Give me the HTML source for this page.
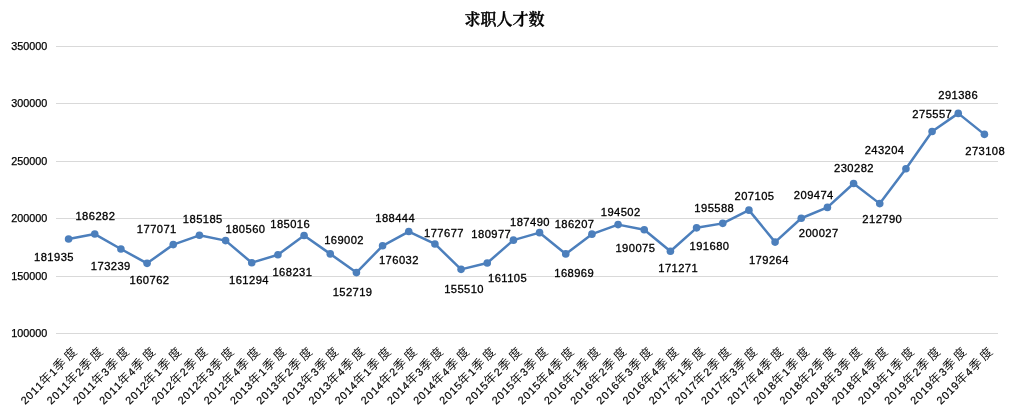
<!DOCTYPE html>
<html lang="zh-CN">
<head>
<meta charset="utf-8">
<title>求职人才数</title>
<style>
html,body{margin:0;padding:0;background:#fff;}
body{width:1010px;height:411px;overflow:hidden;}
svg{display:block;}
.ax{font-family:"Liberation Sans","Noto Sans CJK SC",sans-serif;font-size:10.8px;fill:#000;stroke:#000;stroke-width:0.25px;}
.dl{font-family:"Liberation Sans","Noto Sans CJK SC",sans-serif;font-size:11.2px;letter-spacing:0.42px;fill:#000;stroke:#000;stroke-width:0.3px;text-anchor:middle;}
.xl{font-family:"Liberation Sans","Noto Sans CJK SC",sans-serif;font-size:10.8px;fill:#000;stroke:#000;stroke-width:0.18px;text-anchor:middle;}
.xl .c{font-family:"Noto Sans CJK SC","Noto Serif CJK SC",sans-serif;font-size:12.2px;font-weight:350;stroke:none;}
.title{font-family:"Noto Serif CJK SC","Liberation Serif",serif;font-weight:600;font-size:16px;fill:#000;stroke:#000;stroke-width:0.35px;text-anchor:middle;}
</style>
</head>
<body>
<svg width="1010" height="411" viewBox="0 0 1010 411">
<rect x="0" y="0" width="1010" height="411" fill="#ffffff"/>
<text class="title" x="504.5" y="25">求职人才数</text>
<g stroke="#d9d9d9" stroke-width="1" shape-rendering="crispEdges">
<line x1="56.0" y1="46.5" x2="998.0" y2="46.5"/>
<line x1="56.0" y1="103.5" x2="998.0" y2="103.5"/>
<line x1="56.0" y1="161.5" x2="998.0" y2="161.5"/>
<line x1="56.0" y1="218.5" x2="998.0" y2="218.5"/>
<line x1="56.0" y1="276.5" x2="998.0" y2="276.5"/>
<line x1="56.0" y1="333.5" x2="998.0" y2="333.5"/>
</g>
<g class="ax" text-anchor="end">
<text x="47.3" y="50.4">350000</text>
<text x="47.3" y="107.4">300000</text>
<text x="47.3" y="165.4">250000</text>
<text x="47.3" y="222.4">200000</text>
<text x="47.3" y="280.4">150000</text>
<text x="47.3" y="337.4">100000</text>
</g>
<polyline points="68.58,239.04 94.75,234.05 120.92,249.02 147.08,263.35 173.25,244.62 199.42,235.31 225.58,240.62 251.75,262.73 277.92,254.77 304.08,235.50 330.25,253.89 356.42,272.58 382.58,245.82 408.75,231.57 434.92,243.93 461.08,269.37 487.25,262.95 513.42,240.14 539.58,232.66 565.75,253.92 591.92,234.13 618.08,224.61 644.25,229.69 670.42,251.28 696.58,227.85 722.75,223.36 748.92,210.14 775.08,242.10 801.25,218.27 827.42,207.42 853.58,183.54 879.75,203.62 905.92,168.70 932.08,131.56 958.25,113.39 984.42,134.37" fill="none" stroke="#4c7fbc" stroke-width="2.5" stroke-linejoin="round" stroke-linecap="round"/>
<g fill="#4c7fbc">
<circle cx="68.58" cy="239.04" r="3.8"/>
<circle cx="94.75" cy="234.05" r="3.8"/>
<circle cx="120.92" cy="249.02" r="3.8"/>
<circle cx="147.08" cy="263.35" r="3.8"/>
<circle cx="173.25" cy="244.62" r="3.8"/>
<circle cx="199.42" cy="235.31" r="3.8"/>
<circle cx="225.58" cy="240.62" r="3.8"/>
<circle cx="251.75" cy="262.73" r="3.8"/>
<circle cx="277.92" cy="254.77" r="3.8"/>
<circle cx="304.08" cy="235.50" r="3.8"/>
<circle cx="330.25" cy="253.89" r="3.8"/>
<circle cx="356.42" cy="272.58" r="3.8"/>
<circle cx="382.58" cy="245.82" r="3.8"/>
<circle cx="408.75" cy="231.57" r="3.8"/>
<circle cx="434.92" cy="243.93" r="3.8"/>
<circle cx="461.08" cy="269.37" r="3.8"/>
<circle cx="487.25" cy="262.95" r="3.8"/>
<circle cx="513.42" cy="240.14" r="3.8"/>
<circle cx="539.58" cy="232.66" r="3.8"/>
<circle cx="565.75" cy="253.92" r="3.8"/>
<circle cx="591.92" cy="234.13" r="3.8"/>
<circle cx="618.08" cy="224.61" r="3.8"/>
<circle cx="644.25" cy="229.69" r="3.8"/>
<circle cx="670.42" cy="251.28" r="3.8"/>
<circle cx="696.58" cy="227.85" r="3.8"/>
<circle cx="722.75" cy="223.36" r="3.8"/>
<circle cx="748.92" cy="210.14" r="3.8"/>
<circle cx="775.08" cy="242.10" r="3.8"/>
<circle cx="801.25" cy="218.27" r="3.8"/>
<circle cx="827.42" cy="207.42" r="3.8"/>
<circle cx="853.58" cy="183.54" r="3.8"/>
<circle cx="879.75" cy="203.62" r="3.8"/>
<circle cx="905.92" cy="168.70" r="3.8"/>
<circle cx="932.08" cy="131.56" r="3.8"/>
<circle cx="958.25" cy="113.39" r="3.8"/>
<circle cx="984.42" cy="134.37" r="3.8"/>
</g>
<g class="dl">
<text x="54.0" y="261.2">181935</text>
<text x="95.4" y="220.2">186282</text>
<text x="110.8" y="270.2">173239</text>
<text x="149.5" y="284.2">160762</text>
<text x="156.8" y="233.2">177071</text>
<text x="202.8" y="222.8">185185</text>
<text x="245.5" y="233.2">180560</text>
<text x="249.0" y="283.7">161294</text>
<text x="292.4" y="276.2">168231</text>
<text x="290.2" y="227.6">185016</text>
<text x="344.1" y="244.2">169002</text>
<text x="352.6" y="296.2">152719</text>
<text x="398.9" y="264.1">176032</text>
<text x="395.2" y="221.5">188444</text>
<text x="444.0" y="237.3">177677</text>
<text x="464.1" y="293.4">155510</text>
<text x="507.6" y="282.3">161105</text>
<text x="491.3" y="238.0">180977</text>
<text x="530.0" y="225.5">187490</text>
<text x="574.2" y="277.0">168969</text>
<text x="574.6" y="228.3">186207</text>
<text x="620.7" y="216.2">194502</text>
<text x="635.4" y="252.2">190075</text>
<text x="678.2" y="272.2">171271</text>
<text x="709.5" y="250.1">191680</text>
<text x="714.3" y="212.4">195588</text>
<text x="754.5" y="200.3">207105</text>
<text x="768.9" y="264.3">179264</text>
<text x="818.7" y="237.2">200027</text>
<text x="813.8" y="199.3">209474</text>
<text x="854.0" y="172.4">230282</text>
<text x="882.3" y="223.0">212790</text>
<text x="884.6" y="154.3">243204</text>
<text x="932.3" y="117.8">275557</text>
<text x="958.2" y="99.2">291386</text>
<text x="985.2" y="155.1">273108</text>
</g>
<g class="xl">
<text transform="translate(70.25,354.05) rotate(-45)" y="4.2" x="-65 -58 -51 -44.3">2011<tspan class="c" x="-35">年</tspan><tspan x="-24.9">1</tspan><tspan class="c" x="-15 0">季度</tspan></text>
<text transform="translate(96.42,354.05) rotate(-45)" y="4.2" x="-65 -58 -51 -44.3">2011<tspan class="c" x="-35">年</tspan><tspan x="-24.9">2</tspan><tspan class="c" x="-15 0">季度</tspan></text>
<text transform="translate(122.58,354.05) rotate(-45)" y="4.2" x="-65 -58 -51 -44.3">2011<tspan class="c" x="-35">年</tspan><tspan x="-24.9">3</tspan><tspan class="c" x="-15 0">季度</tspan></text>
<text transform="translate(148.75,354.05) rotate(-45)" y="4.2" x="-65 -58 -51 -44.3">2011<tspan class="c" x="-35">年</tspan><tspan x="-24.9">4</tspan><tspan class="c" x="-15 0">季度</tspan></text>
<text transform="translate(174.92,354.05) rotate(-45)" y="4.2" x="-65 -58 -51 -44.3">2012<tspan class="c" x="-35">年</tspan><tspan x="-24.9">1</tspan><tspan class="c" x="-15 0">季度</tspan></text>
<text transform="translate(201.08,354.05) rotate(-45)" y="4.2" x="-65 -58 -51 -44.3">2012<tspan class="c" x="-35">年</tspan><tspan x="-24.9">2</tspan><tspan class="c" x="-15 0">季度</tspan></text>
<text transform="translate(227.25,354.05) rotate(-45)" y="4.2" x="-65 -58 -51 -44.3">2012<tspan class="c" x="-35">年</tspan><tspan x="-24.9">3</tspan><tspan class="c" x="-15 0">季度</tspan></text>
<text transform="translate(253.42,354.05) rotate(-45)" y="4.2" x="-65 -58 -51 -44.3">2012<tspan class="c" x="-35">年</tspan><tspan x="-24.9">4</tspan><tspan class="c" x="-15 0">季度</tspan></text>
<text transform="translate(279.58,354.05) rotate(-45)" y="4.2" x="-65 -58 -51 -44.3">2013<tspan class="c" x="-35">年</tspan><tspan x="-24.9">1</tspan><tspan class="c" x="-15 0">季度</tspan></text>
<text transform="translate(305.75,354.05) rotate(-45)" y="4.2" x="-65 -58 -51 -44.3">2013<tspan class="c" x="-35">年</tspan><tspan x="-24.9">2</tspan><tspan class="c" x="-15 0">季度</tspan></text>
<text transform="translate(331.92,354.05) rotate(-45)" y="4.2" x="-65 -58 -51 -44.3">2013<tspan class="c" x="-35">年</tspan><tspan x="-24.9">3</tspan><tspan class="c" x="-15 0">季度</tspan></text>
<text transform="translate(358.08,354.05) rotate(-45)" y="4.2" x="-65 -58 -51 -44.3">2013<tspan class="c" x="-35">年</tspan><tspan x="-24.9">4</tspan><tspan class="c" x="-15 0">季度</tspan></text>
<text transform="translate(384.25,354.05) rotate(-45)" y="4.2" x="-65 -58 -51 -44.3">2014<tspan class="c" x="-35">年</tspan><tspan x="-24.9">1</tspan><tspan class="c" x="-15 0">季度</tspan></text>
<text transform="translate(410.42,354.05) rotate(-45)" y="4.2" x="-65 -58 -51 -44.3">2014<tspan class="c" x="-35">年</tspan><tspan x="-24.9">2</tspan><tspan class="c" x="-15 0">季度</tspan></text>
<text transform="translate(436.58,354.05) rotate(-45)" y="4.2" x="-65 -58 -51 -44.3">2014<tspan class="c" x="-35">年</tspan><tspan x="-24.9">3</tspan><tspan class="c" x="-15 0">季度</tspan></text>
<text transform="translate(462.75,354.05) rotate(-45)" y="4.2" x="-65 -58 -51 -44.3">2014<tspan class="c" x="-35">年</tspan><tspan x="-24.9">4</tspan><tspan class="c" x="-15 0">季度</tspan></text>
<text transform="translate(488.92,354.05) rotate(-45)" y="4.2" x="-65 -58 -51 -44.3">2015<tspan class="c" x="-35">年</tspan><tspan x="-24.9">1</tspan><tspan class="c" x="-15 0">季度</tspan></text>
<text transform="translate(515.08,354.05) rotate(-45)" y="4.2" x="-65 -58 -51 -44.3">2015<tspan class="c" x="-35">年</tspan><tspan x="-24.9">2</tspan><tspan class="c" x="-15 0">季度</tspan></text>
<text transform="translate(541.25,354.05) rotate(-45)" y="4.2" x="-65 -58 -51 -44.3">2015<tspan class="c" x="-35">年</tspan><tspan x="-24.9">3</tspan><tspan class="c" x="-15 0">季度</tspan></text>
<text transform="translate(567.42,354.05) rotate(-45)" y="4.2" x="-65 -58 -51 -44.3">2015<tspan class="c" x="-35">年</tspan><tspan x="-24.9">4</tspan><tspan class="c" x="-15 0">季度</tspan></text>
<text transform="translate(593.58,354.05) rotate(-45)" y="4.2" x="-65 -58 -51 -44.3">2016<tspan class="c" x="-35">年</tspan><tspan x="-24.9">1</tspan><tspan class="c" x="-15 0">季度</tspan></text>
<text transform="translate(619.75,354.05) rotate(-45)" y="4.2" x="-65 -58 -51 -44.3">2016<tspan class="c" x="-35">年</tspan><tspan x="-24.9">2</tspan><tspan class="c" x="-15 0">季度</tspan></text>
<text transform="translate(645.92,354.05) rotate(-45)" y="4.2" x="-65 -58 -51 -44.3">2016<tspan class="c" x="-35">年</tspan><tspan x="-24.9">3</tspan><tspan class="c" x="-15 0">季度</tspan></text>
<text transform="translate(672.08,354.05) rotate(-45)" y="4.2" x="-65 -58 -51 -44.3">2016<tspan class="c" x="-35">年</tspan><tspan x="-24.9">4</tspan><tspan class="c" x="-15 0">季度</tspan></text>
<text transform="translate(698.25,354.05) rotate(-45)" y="4.2" x="-65 -58 -51 -44.3">2017<tspan class="c" x="-35">年</tspan><tspan x="-24.9">1</tspan><tspan class="c" x="-15 0">季度</tspan></text>
<text transform="translate(724.42,354.05) rotate(-45)" y="4.2" x="-65 -58 -51 -44.3">2017<tspan class="c" x="-35">年</tspan><tspan x="-24.9">2</tspan><tspan class="c" x="-15 0">季度</tspan></text>
<text transform="translate(750.58,354.05) rotate(-45)" y="4.2" x="-65 -58 -51 -44.3">2017<tspan class="c" x="-35">年</tspan><tspan x="-24.9">3</tspan><tspan class="c" x="-15 0">季度</tspan></text>
<text transform="translate(776.75,354.05) rotate(-45)" y="4.2" x="-65 -58 -51 -44.3">2017<tspan class="c" x="-35">年</tspan><tspan x="-24.9">4</tspan><tspan class="c" x="-15 0">季度</tspan></text>
<text transform="translate(802.92,354.05) rotate(-45)" y="4.2" x="-65 -58 -51 -44.3">2018<tspan class="c" x="-35">年</tspan><tspan x="-24.9">1</tspan><tspan class="c" x="-15 0">季度</tspan></text>
<text transform="translate(829.08,354.05) rotate(-45)" y="4.2" x="-65 -58 -51 -44.3">2018<tspan class="c" x="-35">年</tspan><tspan x="-24.9">2</tspan><tspan class="c" x="-15 0">季度</tspan></text>
<text transform="translate(855.25,354.05) rotate(-45)" y="4.2" x="-65 -58 -51 -44.3">2018<tspan class="c" x="-35">年</tspan><tspan x="-24.9">3</tspan><tspan class="c" x="-15 0">季度</tspan></text>
<text transform="translate(881.42,354.05) rotate(-45)" y="4.2" x="-65 -58 -51 -44.3">2018<tspan class="c" x="-35">年</tspan><tspan x="-24.9">4</tspan><tspan class="c" x="-15 0">季度</tspan></text>
<text transform="translate(907.58,354.05) rotate(-45)" y="4.2" x="-65 -58 -51 -44.3">2019<tspan class="c" x="-35">年</tspan><tspan x="-24.9">1</tspan><tspan class="c" x="-15 0">季度</tspan></text>
<text transform="translate(933.75,354.05) rotate(-45)" y="4.2" x="-65 -58 -51 -44.3">2019<tspan class="c" x="-35">年</tspan><tspan x="-24.9">2</tspan><tspan class="c" x="-15 0">季度</tspan></text>
<text transform="translate(959.92,354.05) rotate(-45)" y="4.2" x="-65 -58 -51 -44.3">2019<tspan class="c" x="-35">年</tspan><tspan x="-24.9">3</tspan><tspan class="c" x="-15 0">季度</tspan></text>
<text transform="translate(986.08,354.05) rotate(-45)" y="4.2" x="-65 -58 -51 -44.3">2019<tspan class="c" x="-35">年</tspan><tspan x="-24.9">4</tspan><tspan class="c" x="-15 0">季度</tspan></text>
</g>
</svg>
</body>
</html>
